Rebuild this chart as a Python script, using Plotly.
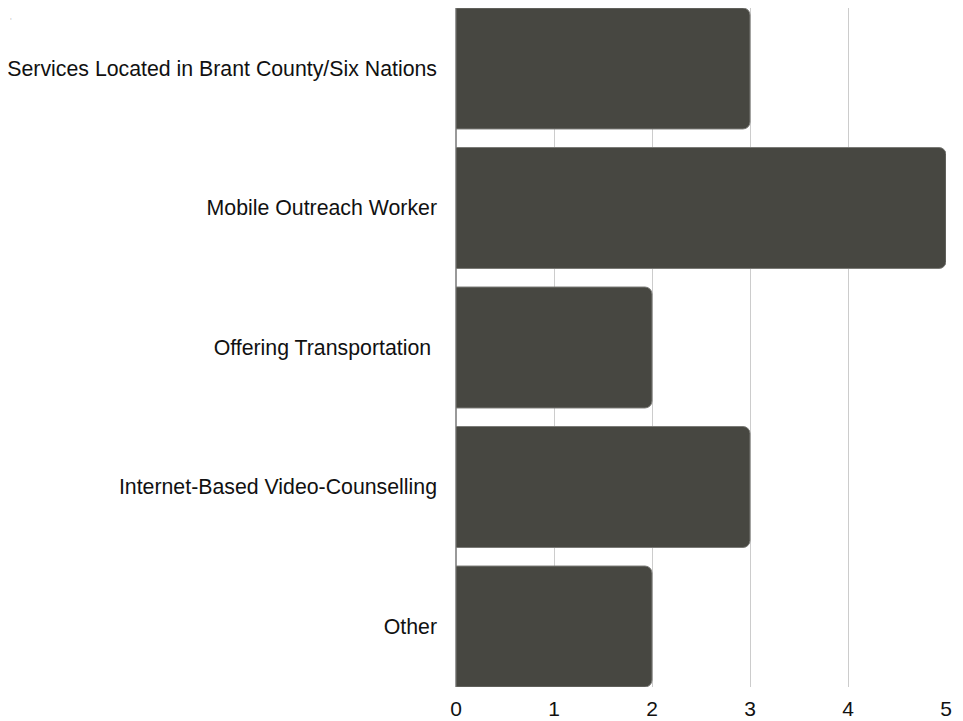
import plotly.graph_objects as go

categories = [
    "Services Located in Brant County/Six Nations",
    "Mobile Outreach Worker",
    "Offering Transportation ",
    "Internet-Based Video-Counselling",
    "Other",
]
values = [3, 5, 2, 3, 2]
tick_vals = [0, 1, 2, 3, 4, 5]

W, H = 955, 713
L, R, T, B = 448, 17, 0, 34
pw, ph = W - L - R, H - T - B

fig = go.Figure(
    go.Bar(
        y=categories,
        x=values,
        orientation="h",
        marker=dict(color="#474741", line=dict(color="#7a7a76", width=1)),
        hoverinfo="x+y",
    )
)

fig.update_layout(
    width=W,
    height=H,
    margin=dict(l=L, r=R, t=T, b=B),
    paper_bgcolor="white",
    plot_bgcolor="white",
    bargap=0.133,
    barcornerradius=7,
    font=dict(family="Liberation Sans, Arial, sans-serif", size=21, color="#111111"),
    showlegend=False,
    xaxis=dict(
        range=[0, 5.0],
        tickvals=tick_vals,
        showgrid=True,
        gridcolor="#cccccc",
        gridwidth=1,
        zeroline=True,
        zerolinecolor="#999999",
        showline=False,
        ticks="",
        ticklabelstandoff=7,
        tickfont=dict(size=21),
    ),
    yaxis=dict(
        categoryorder="array",
        categoryarray=categories,
        autorange=False,
        range=[4.4335, -0.4335],
        showgrid=False,
        zeroline=False,
        showline=False,
        ticks="",
        ticklabelstandoff=18,
        tickfont=dict(size=21.3),
    ),
    annotations=[
        dict(
            text=",",
            x=(0 - L) / pw,
            y=1 - 9 / ph,
            xref="paper",
            yref="paper",
            xanchor="left",
            yanchor="middle",
            showarrow=False,
            font=dict(size=6, color="#555555"),
        )
    ],
)

fig.write_html("out.html")
